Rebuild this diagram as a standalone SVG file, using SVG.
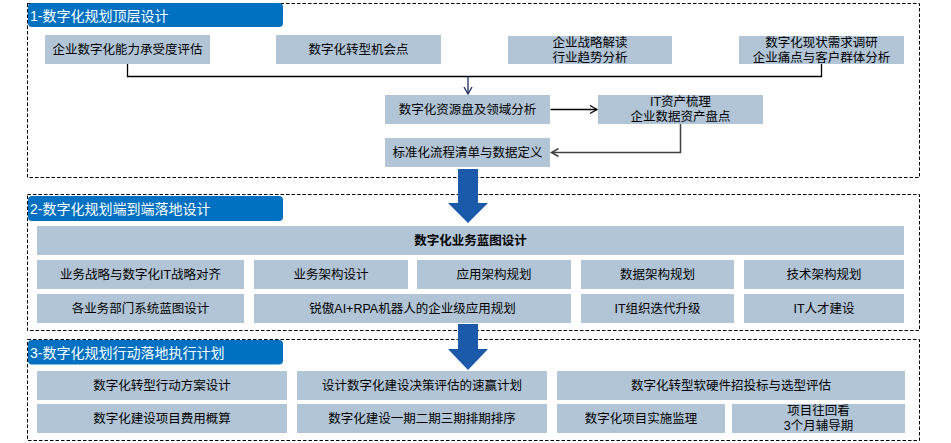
<svg xmlns="http://www.w3.org/2000/svg" width="951" height="443" viewBox="0 0 951 443">
<defs>
<style>
.sec{fill:none;stroke:#000;stroke-width:1;stroke-dasharray:3.5 2}
.tab{fill:#0070C0}
.tt{fill:#fff;font-family:"Liberation Sans","Noto Sans CJK SC",sans-serif;font-size:14px;dominant-baseline:central}
.bx{fill:#B1C5D7}
.t{fill:#000;font-family:"Liberation Sans","Noto Sans CJK SC",sans-serif;font-size:12.5px;text-anchor:middle;dominant-baseline:central}
.b{font-weight:bold}
.big{fill:#1B5AAA}
.ln{fill:none;stroke-width:1.5}
</style>
<marker id="ahN" markerWidth="10" markerHeight="10" refX="8" refY="5" orient="auto" markerUnits="userSpaceOnUse">
<path d="M1,1 L8,5 L1,9" fill="none" stroke="#1F2A5C" stroke-width="1.3"/>
</marker>
<marker id="ahK" markerWidth="10" markerHeight="10" refX="8" refY="5" orient="auto" markerUnits="userSpaceOnUse">
<path d="M1,1 L8,5 L1,9" fill="none" stroke="#000" stroke-width="1.3"/>
</marker>
<marker id="ahG" markerWidth="10" markerHeight="10" refX="8" refY="5" orient="auto" markerUnits="userSpaceOnUse">
<path d="M1,1 L8,5 L1,9" fill="none" stroke="#404040" stroke-width="1.5"/>
</marker>
</defs>
<rect width="951" height="443" fill="#fff"/>

<g id="section1">
<rect class="sec" x="27.5" y="3.5" width="892" height="174"/>
<rect class="tab" x="28" y="3" width="255" height="24" rx="4"/>
<text class="tt" x="30" y="15.5">1-数字化规划顶层设计</text>
</g>
<g id="section2">
<rect class="sec" x="27.5" y="194.5" width="892" height="136"/>
<rect class="tab" x="28" y="196" width="255" height="25" rx="4"/>
<text class="tt" x="30" y="208.5">2-数字化规划端到端落地设计</text>
</g>
<g id="section3">
<rect class="sec" x="27.5" y="339.5" width="892" height="101"/>
<rect class="tab" x="28" y="340" width="255" height="24.5" rx="4"/>
<text class="tt" x="30" y="352.5">3-数字化规划行动落地执行计划</text>
</g>

<g id="connectors">
<path class="ln" d="M127.5,64 V76.5 H821.5 V64" stroke="#000" style="stroke-width:1.3"/>
<path class="ln" d="M468,76.5 V94" stroke="#1F2A5C" style="stroke-width:1.3" marker-end="url(#ahN)"/>
<path class="ln" d="M550.5,109.5 H597" stroke="#000" style="stroke-width:1.3" marker-end="url(#ahK)"/>
<path class="ln" d="M680.5,124 V152.5 H551.5" stroke="#404040" marker-end="url(#ahG)"/>
<path class="big" d="M458,169 H478 V203 H488 L468,223 L448,203 H458 Z"/>
<path class="big" d="M458,324 H478 V349 H488 L468,370 L448,349 H458 Z"/>
</g>

<g id="n-a"><rect class="bx" x="45" y="35" width="165" height="29"/><text class="t" x="127.5" y="49.5">企业数字化能力承受度评估</text></g>
<g id="n-b"><rect class="bx" x="276" y="35" width="165" height="29"/><text class="t" x="358.5" y="49.5">数字化转型机会点</text></g>
<g id="n-c"><rect class="bx" x="508" y="36" width="164" height="28"/><text class="t" x="590" y="43">企业战略解读</text><text class="t" x="590" y="57.5">行业趋势分析</text></g>
<g id="n-d"><rect class="bx" x="739" y="36" width="165" height="28"/><text class="t" x="821.5" y="43">数字化现状需求调研</text><text class="t" x="821.5" y="57.5">企业痛点与客户群体分析</text></g>
<g id="n-e"><rect class="bx" x="385" y="95" width="165" height="29"/><text class="t" x="467.5" y="109.5">数字化资源盘及领域分析</text></g>
<g id="n-f"><rect class="bx" x="598" y="95" width="165" height="29"/><text class="t" x="680.5" y="101.5">IT资产梳理</text><text class="t" x="680.5" y="116.5">企业数据资产盘点</text></g>
<g id="n-g"><rect class="bx" x="385" y="138" width="165" height="29"/><text class="t" x="467.5" y="152.5">标准化流程清单与数据定义</text></g>

<g id="n-blueprint"><rect class="bx" x="37" y="226" width="867" height="29"/><text class="t b" x="470.5" y="240.5">数字化业务蓝图设计</text></g>
<g id="n-2a"><rect class="bx" x="37" y="260" width="207" height="29"/><text class="t" x="140.5" y="274.5">业务战略与数字化IT战略对齐</text></g>
<g id="n-2b"><rect class="bx" x="254" y="260" width="154" height="29"/><text class="t" x="331" y="274.5">业务架构设计</text></g>
<g id="n-2c"><rect class="bx" x="417" y="260" width="154" height="29"/><text class="t" x="494" y="274.5">应用架构规划</text></g>
<g id="n-2d"><rect class="bx" x="581" y="260" width="153" height="29"/><text class="t" x="657.5" y="274.5">数据架构规划</text></g>
<g id="n-2e"><rect class="bx" x="744" y="260" width="160" height="29"/><text class="t" x="824" y="274.5">技术架构规划</text></g>
<g id="n-2f"><rect class="bx" x="37" y="294" width="207" height="29"/><text class="t" x="140.5" y="308.5">各业务部门系统蓝图设计</text></g>
<g id="n-2g"><rect class="bx" x="254" y="294" width="317" height="29"/><text class="t" x="412.5" y="308.5">锐傲AI+RPA机器人的企业级应用规划</text></g>
<g id="n-2h"><rect class="bx" x="581" y="294" width="153" height="29"/><text class="t" x="657.5" y="308.5">IT组织迭代升级</text></g>
<g id="n-2i"><rect class="bx" x="744" y="294" width="160" height="29"/><text class="t" x="824" y="308.5">IT人才建设</text></g>

<g id="n-3a"><rect class="bx" x="37" y="371" width="250" height="29"/><text class="t" x="162" y="385.5">数字化转型行动方案设计</text></g>
<g id="n-3b"><rect class="bx" x="297" y="371" width="250" height="29"/><text class="t" x="422" y="385.5">设计数字化建设决策评估的速赢计划</text></g>
<g id="n-3c"><rect class="bx" x="557" y="371" width="348" height="29"/><text class="t" x="731" y="385.5">数字化转型软硬件招投标与选型评估</text></g>
<g id="n-3d"><rect class="bx" x="37" y="404" width="250" height="29"/><text class="t" x="162" y="418.5">数字化建设项目费用概算</text></g>
<g id="n-3e"><rect class="bx" x="297" y="404" width="250" height="29"/><text class="t" x="422" y="418.5">数字化建设一期二期三期排期排序</text></g>
<g id="n-3f"><rect class="bx" x="557" y="404" width="168" height="29"/><text class="t" x="641" y="418.5">数字化项目实施监理</text></g>
<g id="n-3g"><rect class="bx" x="732" y="404" width="173" height="29"/><text class="t" x="818.5" y="411">项目往回看</text><text class="t" x="818.5" y="425.5">3个月辅导期</text></g>
</svg>
